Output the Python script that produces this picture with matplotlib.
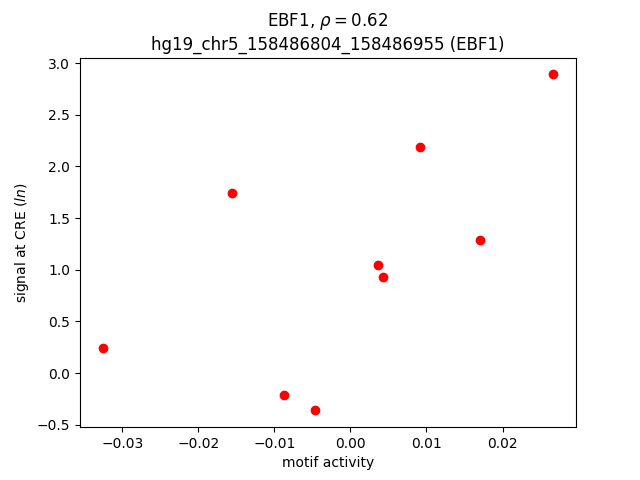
import matplotlib
matplotlib.use('Agg')
import matplotlib.pyplot as plt

# motif activity vs signal at CRE
motif_activity = [-0.0326, -0.0156, -0.0088, -0.0046, 0.0036, 0.0043, 0.0091, 0.0171, 0.0267]
cre_signal = [0.24, 1.74, -0.21, -0.36, 1.05, 0.93, 2.19, 1.29, 2.89]

fig = plt.figure(figsize=(6.4, 4.8), dpi=100)
plt.scatter(motif_activity, cre_signal, color='red')
plt.title('EBF1, $\\rho = 0.62$\nhg19_chr5_158486804_158486955 (EBF1)')
plt.xlabel('motif activity')
plt.ylabel('signal at CRE ($ln$)')
plt.savefig('out.png')
